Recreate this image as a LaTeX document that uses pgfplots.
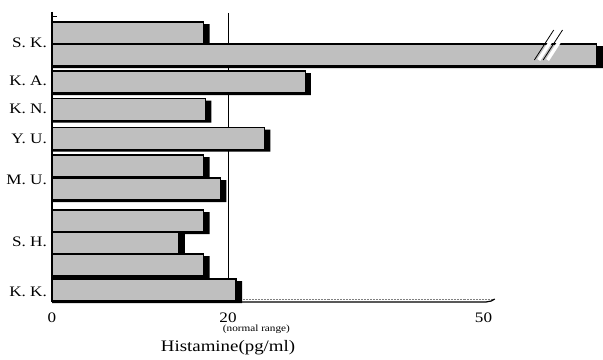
\documentclass[border=0pt]{standalone}
\usepackage{pgfplots}
\pgfplotsset{compat=1.18}
\usepackage{fontspec}
\setmainfont{Liberation Serif}[FakeStretch=1.18]
\begin{document}
\begin{tikzpicture}
\begin{axis}[
  name=ax,
  scale only axis,
  width=551bp, height=287bp,
  xmin=0, xmax=62.6,
  ymin=15, ymax=302,
  y dir=reverse,
  clip=false,
  axis line style={draw=none},
  tick style={draw=none},
  major tick length=0pt,
  /pgf/number format/assume math mode=true,
  xtick={0,20,50},
  xticklabels={0,20,\makebox[0pt][r]{50}},
  xticklabel style={font=\fontsize{14.5bp}{16bp}\selectfont, inner sep=0pt, anchor=north, yshift=-11bp},
  ytick={43,81,109,139,180,242,292},
  yticklabels={S. K.,K. A.,K. N.,Y. U.,M. U.,S. H.,K. K.},
  yticklabel style={font=\fontsize{14.5bp}{16bp}\selectfont, inner sep=0pt, anchor=east, xshift=-5bp},
  xlabel={Histamine(pg/ml)},
  xlabel style={at={(axis description cs:0.3195,-0.160)}, anchor=center, font=\fontsize{16bp}{18bp}\selectfont},
]
% reference lines (behind bars)
\draw[line width=1pt] (axis cs:20,13) -- (axis cs:20,302);
\draw[line width=1.2pt] (axis cs:0,12) -- (axis cs:0,302);
\draw[line width=0.8pt] (axis cs:0,12) -- (axis cs:0,16) -- (axis cs:0.6,16);
\draw[line width=0.5pt, densely dotted, gray] (axis cs:21,299) -- (axis cs:50.2,299);
\draw[line width=1.2pt] (axis cs:0,302) -- (axis cs:49.3,302) -- (axis cs:49.9,301) -- (axis cs:50.3,299);
% shadows
\addplot[xbar, bar width=22, bar shift=2, fill=black, draw=none, forget plot]
  coordinates {(17.9,33) (62.6,55) (29.4,82) (18.1,109.5) (24.8,138.5) (17.9,166) (19.8,189) (17.9,221) (15.1,242.5) (17.9,265) (21.6,290)};
% bars
\addplot[xbar, bar width=22, bar shift=0, fill=black!25, draw=black, line width=1.1pt]
  coordinates {(17.2,33) (61.9,55) (28.75,82) (17.4,109.5) (24.1,138.5) (17.2,166) (19.1,189) (17.2,221) (14.4,242.5) (17.2,265) (20.9,290)};
% axis break marks
\draw[white, line width=3.5bp] (axis cs:55.3,60) -- (axis cs:57.5,30);
\draw[white, line width=3.5bp] (axis cs:56.3,60) -- (axis cs:58.5,30);
\draw[black, line width=0.8bp] (axis cs:54.8,60) -- (axis cs:57.0,30);
\draw[black, line width=0.8bp] (axis cs:55.8,60) -- (axis cs:58.0,30);
% normal range note
\node[anchor=north west, inner sep=0pt, font=\fontsize{9.5bp}{10bp}\selectfont] at (axis cs:19.4,325) {(normal range)};
\end{axis}
\pgfresetboundingbox
\path ([shift={(-52bp,302bp)}]ax.south west) rectangle ([shift={(0bp,-58bp)}]ax.south east);
\end{tikzpicture}
\end{document}
